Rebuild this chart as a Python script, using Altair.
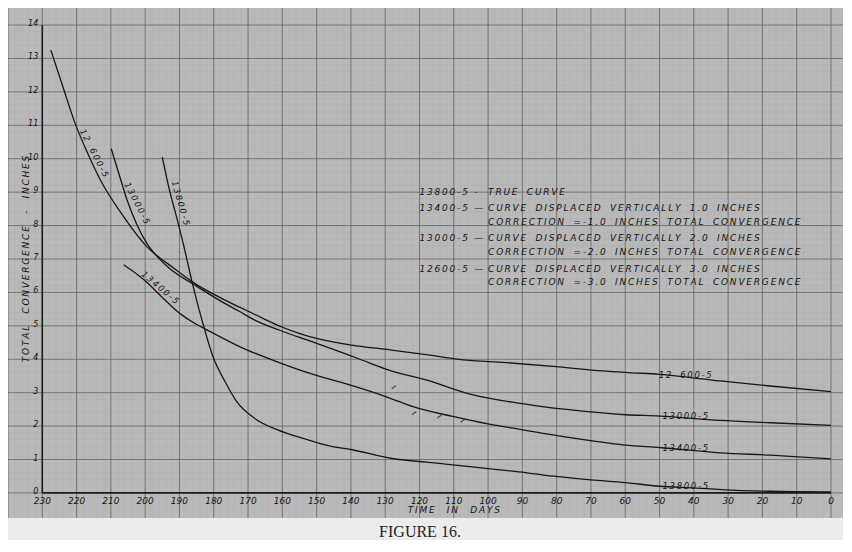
import altair as alt
import pandas as pd

# ---------------- data (days, inches) ----------------
d_13800 = [195, 193, 190.7, 188.3, 186.3, 182.7, 180.3, 176.8, 173.4, 167.6, 161.7, 153, 146, 140,
           128, 118, 111, 100, 91, 81, 70, 60, 50, 40, 32, 18, 0]
v_13800 = [10.05, 9.1, 8.2, 7.2, 6.3, 4.9, 4.1, 3.35, 2.75, 2.2, 1.9, 1.6, 1.4, 1.3,
           1.03, 0.92, 0.85, 0.73, 0.63, 0.5, 0.39, 0.31, 0.2, 0.15, 0.1, 0.05, 0.03]

d_13400 = [206.3, 200, 195, 190, 185, 182, 172.5, 161.7, 150.5, 141.3, 128.7, 121.9, 110.3,
           99.7, 90, 80.3, 70.6, 60, 50, 32.4, 17.8, 0]
v_13400 = [6.83, 6.35, 5.85, 5.38, 5.04, 4.88, 4.38, 3.93, 3.53, 3.26, 2.84, 2.58, 2.29,
           2.06, 1.89, 1.72, 1.57, 1.43, 1.36, 1.2, 1.13, 1.02]

d_13000 = [209.9, 207.5, 205.3, 202.5, 199.5, 196, 192.7, 186, 177.3, 172.3, 168.6, 159.8, 152,
           146.1, 137.4, 128.7, 118.1, 105, 92, 85.2, 76.4, 60, 50, 32.4, 17.8, 0]
v_13000 = [10.3, 9.5, 8.77, 8.05, 7.47, 7.02, 6.7, 6.25, 5.7, 5.42, 5.2, 4.83, 4.55,
           4.33, 4.0, 3.67, 3.38, 2.95, 2.7, 2.6, 2.49, 2.34, 2.3, 2.17, 2.1, 2.02]

d_12600 = [227.5, 224.3, 220.4, 216.7, 213.1, 206.3, 199.5, 191.7, 186, 177.3, 172.3, 168.6,
           159.8, 154.9, 149.1, 140.3, 128.6, 118.1, 107.9, 94.8, 79.3, 66.7, 59, 50, 32.4, 17.8, 0]
v_12600 = [13.25, 12.25, 11.05, 10.15, 9.37, 8.27, 7.37, 6.73, 6.3, 5.8, 5.55, 5.37,
           4.95, 4.77, 4.6, 4.43, 4.28, 4.14, 3.99, 3.9, 3.77, 3.65, 3.6, 3.55, 3.35, 3.2, 3.03]

stray_d = [127.5, 121.5, 114.2, 107.4]
stray_v = [3.16, 2.39, 2.29, 2.16]

x_ticks = [230, 220, 210, 200, 190, 180, 170, 160, 150, 140, 130, 120, 110, 100,
           90, 80, 70, 60, 50, 40, 30, 20, 10, 0]
y_ticks = [0, 1, 2, 3, 4, 5, 6, 7, 8, 9, 10, 11, 12, 13, 14]

note_ids = ["13800-5 -", "13400-5 —", "13000-5 —", "12600-5 —"]
note_lines = [
    ["TRUE CURVE"],
    ["CURVE DISPLACED VERTICALLY 1.0 INCHES", "CORRECTION =-1.0 INCHES TOTAL CONVERGENCE"],
    ["CURVE DISPLACED VERTICALLY 2.0 INCHES", "CORRECTION =-2.0 INCHES TOTAL CONVERGENCE"],
    ["CURVE DISPLACED VERTICALLY 3.0 INCHES", "CORRECTION =-3.0 INCHES TOTAL CONVERGENCE"],
]
note_y = [[9.0], [8.52, 8.12], [7.63, 7.22], [6.70, 6.32]]

curve_names = ["12 600-5", "13000-5", "13800-5", "13400-5"]
curve_lab_x = [214.8, 202.3, 189.6, 195.6]
curve_lab_y = [10.17, 8.67, 8.67, 6.15]
curve_lab_a = [63, 63, 74, 40]

end_names = ["12 600-5", "13000-5", "13400-5", "13800-5"]
end_y = [3.48, 2.25, 1.29, 0.16]


def sp(s, gap=2):
    """hand-lettering look: thin spaces between letters, wide word gaps"""
    words = [("\u2009".join(list(w))) for w in s.split(" ")]
    return ("\u2009" + "\u00a0" * gap + "\u2009").join(words)


# ---------------- frames ----------------
rows = []
for name, dd, vv in [("13800-5", d_13800, v_13800), ("13400-5", d_13400, v_13400),
                     ("13000-5", d_13000, v_13000), ("12600-5", d_12600, v_12600)]:
    for a, b in zip(dd, vv):
        rows.append({"series": name, "days": a, "inches": b})
curves = pd.DataFrame(rows)

XS = alt.Scale(domain=[-3.5, 240], reverse=True, nice=False, zero=False)
YS = alt.Scale(domain=[-0.75, 14.51], nice=False, zero=False)


def X(f):
    return alt.X(f, type="quantitative", scale=XS, axis=None)


def Y(f):
    return alt.Y(f, type="quantitative", scale=YS, axis=None)


minor_vx = [v for v in range(0, 241, 2) if v % 10 != 0]
minor_hy = [round(i * 0.2, 2) for i in range(0, 73) if i % 5 != 0]
major_vx = list(range(0, 241, 10))
major_hy = list(range(0, 15))

minor_v = alt.Chart(pd.DataFrame({"x": minor_vx})).mark_rule(
    color="#8a8a8a", strokeWidth=0.6, opacity=0.18).encode(x=X("x"))
minor_h = alt.Chart(pd.DataFrame({"y": minor_hy})).mark_rule(
    color="#8a8a8a", strokeWidth=0.6, opacity=0.18).encode(y=Y("y"))
major_v = alt.Chart(pd.DataFrame({"x": major_vx})).mark_rule(
    color="#5e5e5e", strokeWidth=1.0, opacity=0.75).encode(x=X("x"))
major_h = alt.Chart(pd.DataFrame({"y": major_hy})).mark_rule(
    color="#5e5e5e", strokeWidth=1.0, opacity=0.75).encode(y=Y("y"))

axis_v = alt.Chart(pd.DataFrame({"x": [230], "y": [0], "y2": [14]})).mark_rule(
    color="#1c1c1c", strokeWidth=1.6).encode(x=X("x"), y=Y("y"), y2="y2:Q")
axis_h = alt.Chart(pd.DataFrame({"x": [230], "x2": [0], "y": [0]})).mark_rule(
    color="#1c1c1c", strokeWidth=1.8).encode(x=X("x"), x2="x2:Q", y=Y("y"))

lines = alt.Chart(curves).mark_line(
    interpolate="monotone", color="#161616", strokeWidth=1.3).encode(
    x=X("days"), y=Y("inches"), detail="series:N")

stray = alt.Chart(pd.DataFrame({"days": stray_d, "inches": stray_v})).mark_point(
    shape="M-1,0.7L1,-0.7", size=18, stroke="#1c1c1c", strokeWidth=1.2, filled=False).encode(
    x=X("days"), y=Y("inches"))

FONT = "DejaVu Sans"
TXT = "#141414"

xt = alt.Chart(pd.DataFrame({"x": x_ticks, "y": [0] * len(x_ticks),
                             "t": [str(v) for v in x_ticks]})).mark_text(
    font=FONT, fontStyle="italic", fontSize=9, color=TXT, baseline="top", dy=4).encode(
    x=X("x"), y=Y("y"), text="t:N")
yt = alt.Chart(pd.DataFrame({"x": [230] * len(y_ticks), "y": y_ticks,
                             "t": [str(v) for v in y_ticks]})).mark_text(
    font=FONT, fontStyle="italic", fontSize=8, color=TXT, align="right",
    baseline="middle", dx=-4, dy=-1).encode(x=X("x"), y=Y("y"), text="t:N")

titles = alt.Chart(pd.DataFrame({
    "x": [234.7, 110], "y": [7.0, -0.5], "a": [270, 0],
    "t": [sp("TOTAL CONVERGENCE - INCHES", 3), sp("TIME IN DAYS", 3)]})).mark_text(
    font=FONT, fontStyle="italic", fontSize=9, color=TXT, align="center", baseline="middle").encode(
    x=X("x"), y=Y("y"), text="t:N", angle=alt.Angle("a:Q", scale=None))

nrows = []
for i, ident in enumerate(note_ids):
    nrows.append({"x": 120, "y": note_y[i][0], "t": sp(ident, 1)})
    for ln, yy in zip(note_lines[i], note_y[i]):
        nrows.append({"x": 100, "y": yy, "t": sp(ln, 2)})
notes = alt.Chart(pd.DataFrame(nrows)).mark_text(
    font=FONT, fontStyle="italic", fontSize=9, color=TXT, align="left", baseline="middle").encode(
    x=X("x"), y=Y("y"), text="t:N")

clabs = alt.Chart(pd.DataFrame({"x": curve_lab_x, "y": curve_lab_y, "a": curve_lab_a,
                                "t": [sp(n) for n in curve_names]})).mark_text(
    font=FONT, fontStyle="italic", fontSize=8.5, color=TXT, align="center", baseline="middle").encode(
    x=X("x"), y=Y("y"), text="t:N", angle=alt.Angle("a:Q", scale=None))

elabs = alt.Chart(pd.DataFrame({"x": [42.5] * 4, "y": end_y,
                                "t": [sp(n) for n in end_names]})).mark_text(
    font=FONT, fontStyle="italic", fontSize=8.5, color=TXT, align="center",
    baseline="alphabetic", dy=1).encode(x=X("x"), y=Y("y"), text="t:N")

caption = alt.Chart(pd.DataFrame({"t": ["FIGURE 16."]})).mark_text(
    font="Liberation Serif", fontSize=16, color="#222222", align="center",
    baseline="alphabetic").encode(x=alt.value(412), y=alt.value(529), text="t:N")

chart = alt.layer(
    minor_v, minor_h, major_v, major_h, axis_v, axis_h, lines, stray,
    xt, yt, titles, notes, clabs, elabs, caption
).properties(
    width=835, height=510,
    autosize=alt.AutoSizeParams(type="none"),
    padding={"left": 0, "top": 0, "right": 0, "bottom": 22},
    background="#ececec",
).configure_view(fill="#b9b9b9", stroke=None)

chart.save("out.html", embed_options={"renderer": "svg", "actions": False})
